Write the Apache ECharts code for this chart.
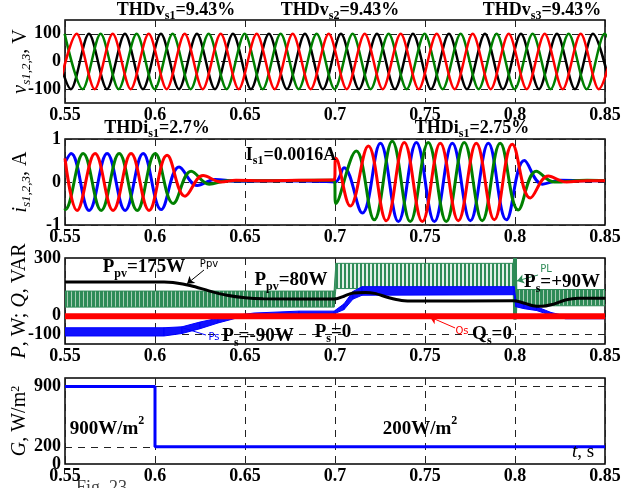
<!DOCTYPE html>
<html lang="en">
<head>
<meta charset="UTF-8">
<title>PV power flow waveforms</title>
<style>
  html, body { margin: 0; padding: 0; background: #fff; }
  #main { width: 628px; height: 488px; }
</style>
</head>
<body>
<div id="main"></div>
<script src="https://cdn.jsdelivr.net/npm/echarts@6/dist/echarts.min.js"></script>
<script>
// time axis, s
var xTicks = [0.55, 0.6, 0.65, 0.7, 0.75, 0.8, 0.85];

// tick labels shown on each y axis
var vTicks = [-100, 0, 100];
var iTicks = [-1, 0, 1];
var pTicks = [-100, 0, 300];
var gTicks = [0, 200, 900];

// panel 1: source voltages, peaks / troughs
var vRedT = [0.5465,0.5565,0.5665,0.5765,0.5865,0.5965,0.6065,0.6165,0.6265,0.6365,0.6465,0.6565,0.6665,0.6765,0.6865,0.6965,
             0.7065,0.7165,0.7265,0.7365,0.7465,0.7565,0.7665,0.7765,0.7865,0.7965,0.8065,0.8165,0.8265,0.8365,0.8465,0.8565];
var vRedV = [-100,100,-100,100,-100,100,-100,100,-100,100,-100,100,-100,100,-100,100,
             -100,100,-100,100,-100,100,-100,100,-100,100,-100,100,-100,100,-100,100];
var vBlkT = [0.5433,0.5533,0.5633,0.5733,0.5833,0.5933,0.6033,0.6133,0.6233,0.6333,0.6433,0.6533,0.6633,0.6733,0.6833,0.6933,
             0.7033,0.7133,0.7233,0.7333,0.7433,0.7533,0.7633,0.7733,0.7833,0.7933,0.8033,0.8133,0.8233,0.8333,0.8433,0.8533];
var vBlkV = [100,-100,100,-100,100,-100,100,-100,100,-100,100,-100,100,-100,100,-100,
             100,-100,100,-100,100,-100,100,-100,100,-100,100,-100,100,-100,100,-100];
var vGrnT = [0.5498,0.5598,0.5698,0.5798,0.5898,0.5998,0.6098,0.6198,0.6298,0.6398,0.6498,0.6598,0.6698,0.6798,0.6898,0.6998,
             0.7098,0.7198,0.7298,0.7398,0.7498,0.7598,0.7698,0.7798,0.7898,0.7998,0.8098,0.8198,0.8298,0.8398,0.8498,0.8598];
var vGrnV = [100,-100,100,-100,100,-100,100,-100,100,-100,100,-100,100,-100,100,-100,
             100,-100,100,-100,100,-100,100,-100,100,-100,100,-100,100,-100,100,-100];

// panel 2: source currents
var iRedT = [0.55,0.5567,0.5667,0.5767,0.5867,0.5967,0.6067,0.6167,0.6267,0.6367,0.645,0.66,0.68,0.6995,
             0.7005,0.7085,0.7185,0.7285,0.7385,0.7485,0.7585,0.7685,0.7785,0.7885,0.7985,0.8085,0.8185,0.8285,0.84,0.85];
var iRedV = [0.55,-0.66,0.66,-0.66,0.66,-0.66,0.62,-0.33,0.15,0.0,0.04,0.03,0.04,0.05,
             0.55,-0.56,0.84,-0.9,0.92,-0.92,0.9,-0.9,0.9,-0.88,0.88,-0.37,0.14,0.0,0.03,0.03];
var iBluT = [0.55,0.5534,0.5634,0.5734,0.5834,0.5934,0.6034,0.6134,0.6234,0.6334,0.645,0.67,0.69,0.7,
             0.705,0.7152,0.7252,0.7352,0.7452,0.7552,0.7652,0.7752,0.7852,0.7952,0.8052,0.8152,0.8252,0.84,0.85];
var iBluV = [0.45,0.66,-0.66,0.66,-0.66,0.66,-0.64,0.35,-0.08,0.06,0.02,0.03,0.02,0.0,
             0.33,-0.72,0.9,-0.92,0.92,-0.92,0.9,-0.9,0.9,-0.88,0.5,-0.05,0.04,0.03,0.03];
var iGrnT = [0.55,0.5501,0.5601,0.5701,0.5801,0.5901,0.6001,0.6101,0.6201,0.6301,0.64,0.66,0.69,0.6995,
             0.7005,0.7118,0.7218,0.7318,0.7418,0.7518,0.7618,0.7718,0.7818,0.7918,0.8018,0.8118,0.8218,0.84,0.85];
var iGrnV = [-0.62,-0.64,0.66,-0.66,0.66,-0.66,0.66,-0.5,0.25,-0.05,0.03,0.03,0.04,0.04,
             -0.5,0.72,-0.88,0.95,-0.92,0.92,-0.92,0.92,-0.9,0.9,-0.65,0.25,0.0,0.04,0.03];

// panel 3: powers
var ppvT = [0.55,0.605,0.61,0.62,0.63,0.64,0.65,0.66,0.7,0.705,0.71,0.717,0.722,0.73,0.737,0.745,0.799,0.803,0.81,0.815,0.82,0.828,0.835,0.85];
var ppvV = [175,175,172,155,128,105,92,87,85,100,117,120,115,92,78,75,76,70,50,47,55,80,90,90];
// load power ripple band (low / high edges), steady parts and the 0.7-0.8 s step
var plT  = [0.55,0.6995,0.7005,0.799,0.7993,0.8007,0.801,0.85];
var plLo = [43,43,140,140,-20,-20,50,50];
var plHi = [127,127,272,272,300,300,135,135];
// grid active power band
var psT  = [0.55,0.605,0.615,0.625,0.635,0.645,0.655,0.68,0.6995,0.705,0.71,0.715,0.7995,0.8005,0.805,0.812,0.82,0.828,0.85];
var psLo = [-108,-108,-95,-70,-40,-15,0,8,8,30,85,105,108,45,35,25,0,-18,-18];
var psHi = [-65,-65,-60,-35,-15,0,12,22,22,60,125,150,150,80,60,45,15,-3,-3];
var qsT  = [0.55,0.85];
var qsV  = [-5,-5];

// panel 4: irradiance
var gT = [0.55,0.6,0.6,0.85];
var gV = [900,900,200,200];

var SERIF = 'Liberation Serif';
var grids = [
  {left: 65, right: 23, top: 20, height: 83},
  {left: 65, right: 23, top: 139, height: 86},
  {left: 65, right: 23, top: 258, height: 86},
  {left: 65, right: 23, top: 378, height: 86}
];
grids.forEach(function (g) {
  g.show = true; g.borderColor = '#000'; g.borderWidth = 1.5; g.backgroundColor = 'transparent';
  g.containLabel = false; g.outerBoundsMode = 'none';
});

function pairs(t, v) { return t.map(function (x, i) { return [x, v[i]]; }); }

function xAxisFor(i) {
  return {
    type: 'value', gridIndex: i, min: xTicks[0], max: xTicks[xTicks.length - 1], interval: 0.05,
    axisLine: {show: false}, axisTick: {show: false},
    axisLabel: {fontFamily: SERIF, fontWeight: 'bold', fontSize: 18, color: '#000', margin: 3, showMinLabel: true, showMaxLabel: true},
    splitLine: {show: true, lineStyle: {color: '#222', width: 1, type: [7, 6]}}
  };
}

var nameRich = {
  it: {fontFamily: SERIF, fontStyle: 'italic', fontSize: 20, lineHeight: 22, verticalAlign: 'top', color: '#000'},
  n: {fontFamily: SERIF, fontSize: 20, lineHeight: 22, verticalAlign: 'top', color: '#000'},
  sb: {fontFamily: SERIF, fontStyle: 'italic', fontSize: 13, lineHeight: 15, padding: [9, 0, 0, 0], verticalAlign: 'top', color: '#000'},
  sp: {fontFamily: SERIF, fontSize: 12, lineHeight: 13, verticalAlign: 'top', color: '#000'}
};

function yAxisFor(i, min, max, interval, ticks, name, gap, split) {
  return {
    type: 'value', gridIndex: i, min: min, max: max, interval: interval,
    axisLine: {show: false}, axisTick: {show: false},
    axisLabel: {
      fontFamily: SERIF, fontWeight: 'bold', fontSize: 18, color: '#000', margin: 4, showMinLabel: true, showMaxLabel: true,
      formatter: function (v) { return ticks.indexOf(Math.round(v * 1000) / 1000) >= 0 ? String(v) : ''; }
    },
    splitLine: {show: !!split, lineStyle: {color: '#222', width: 1, type: [7, 6]}},
    name: name, nameLocation: 'middle', nameRotate: 90, nameGap: gap, nameMoveOverlap: false,
    nameTextStyle: {rich: nameRich}
  };
}

function line(i, t, v, color, width, smooth, extra) {
  var s = {
    type: 'line', xAxisIndex: i, yAxisIndex: i, data: pairs(t, v),
    symbol: 'none', smooth: smooth, silent: true, animation: false,
    lineStyle: {color: color, width: width}, itemStyle: {color: color}
  };
  for (var k in (extra || {})) s[k] = extra[k];
  return s;
}

// ripple band between a low and a high edge, one quad per segment;
// fills[j] picks the fill of segment j
function band(i, t, lo, hi, color, fills) {
  var segs = [];
  for (var j = 0; j < t.length - 1; j++) segs.push([t[j], lo[j], hi[j], t[j + 1], lo[j + 1], hi[j + 1], j]);
  return {
    type: 'custom', xAxisIndex: i, yAxisIndex: i, data: segs, clip: true, silent: true, animation: false,
    encode: {x: [0, 3], y: [1, 2, 4, 5]},
    renderItem: function (params, api) {
      var p = [
        api.coord([api.value(0), api.value(1)]),
        api.coord([api.value(3), api.value(4)]),
        api.coord([api.value(3), api.value(5)]),
        api.coord([api.value(0), api.value(2)])
      ];
      var f = fills[Math.min(api.value(6), fills.length - 1)];
      return {type: 'polygon', shape: {points: p}, style: {fill: f, stroke: color, lineWidth: 1}};
    }
  };
}

// striped fills standing in for the dense ripple of the load power
function stripe(on, off, light) {
  var c = document.createElement('canvas');
  c.width = on + off; c.height = 4;
  var g = c.getContext('2d');
  g.fillStyle = light; g.fillRect(0, 0, on + off, 4);
  g.fillStyle = '#2e8b57'; g.fillRect(0, 0, on, 4);
  return {image: c, repeat: 'repeat'};
}
var dense = stripe(3, 1, '#a9cdb6');
var sparse = stripe(2, 2, '#e2efe7');

function hLines(values) {
  return {
    silent: true, symbol: 'none', z: 1, animation: false, label: {show: false},
    lineStyle: {color: '#222', width: 1, type: [7, 6]},
    data: values.map(function (v) { return {yAxis: v}; })
  };
}

function arrow(color, from, to, head) {
  return [
    {coord: from, symbol: 'none', lineStyle: {color: color, width: 1, type: 'solid'}},
    {coord: to, symbol: head ? 'arrow' : 'none'}
  ];
}

var series = [];
// panel 1
series.push(line(0, vBlkT, vBlkV, '#000000', 2.5, 0.3, {markLine: hLines([100, 0, -100])}));
series.push(line(0, vGrnT, vGrnV, '#008000', 2.5, 0.3));
series.push(line(0, vRedT, vRedV, '#ff0000', 2.5, 0.3));
// panel 2
series.push(line(1, iBluT, iBluV, '#0000ff', 3, 0.4));
series.push(line(1, iGrnT, iGrnV, '#008000', 3, 0.4));
series.push(line(1, iRedT, iRedV, '#ff0000', 3, 0.4));
// panel 3
series.push(band(2, plT, plLo, plHi, '#2e8b57', [dense, dense, sparse, '#2e8b57', '#2e8b57', '#2e8b57', dense]));
series.push(band(2, psT, psLo, psHi, '#0000ff', ['#1010ff']));
series.push(line(2, qsT, qsV, '#ff0000', 6, false, {
  markLine: {
    silent: true, animation: false, symbolSize: 7, label: {show: false},
    data: [
      arrow('#2e8b57', [0.8128, 211], [0.8011, 180], true),
      arrow('#0000ff', [0.6283, -103], [0.6156, -66], false),
      arrow('#ff0000', [0.7667, -66], [0.7528, -9], true),
      arrow('#000000', [0.6272, 237], [0.6178, 165], true)
    ]
  }
}));
series.push(line(2, ppvT, ppvV, '#000000', 3, 0.3, {markLine: hLines([-100, 0])}));
// panel 4
series.push(line(3, gT, gV, '#0000ff', 3, false, {markLine: hLines([900, 200])}));

var bRich = {
  b: {fontFamily: SERIF, fontWeight: 'bold', fontSize: 18, lineHeight: 20, verticalAlign: 'top', color: '#0000ff'},
  s: {fontFamily: SERIF, fontWeight: 'bold', fontSize: 12, lineHeight: 13, padding: [9, 0, 0, 0], verticalAlign: 'top', color: '#0000ff'},
  B: {fontFamily: SERIF, fontWeight: 'bold', fontSize: 19, lineHeight: 21, verticalAlign: 'top', color: '#0000ff'},
  S: {fontFamily: SERIF, fontWeight: 'bold', fontSize: 12, lineHeight: 13, padding: [10, 0, 0, 0], verticalAlign: 'top', color: '#0000ff'},
  bb: {fontFamily: SERIF, fontWeight: 'bold', fontSize: 19, lineHeight: 21, padding: [5, 0, 0, 0], verticalAlign: 'top', color: '#0000ff'},
  p: {fontFamily: SERIF, fontWeight: 'bold', fontSize: 12, lineHeight: 13, verticalAlign: 'top', color: '#0000ff'},
  it: {fontFamily: SERIF, fontStyle: 'italic', fontSize: 19, lineHeight: 21, verticalAlign: 'top', color: '#000'},
  n: {fontFamily: SERIF, fontSize: 19, lineHeight: 21, verticalAlign: 'top', color: '#000'}
};

function label(x, y, text) {
  return {type: 'text', x: x, y: y, silent: true, z: 100,
    style: {text: text, rich: bRich, align: 'center', verticalAlign: 'middle'}};
}
function small(x, y, text, color) {
  return {type: 'text', x: x, y: y, silent: true, z: 100,
    style: {text: text, fill: color, font: '10px "DejaVu Sans"', align: 'center', verticalAlign: 'middle'}};
}

var graphics = [
  label(176, 11, '{b|THDv}{s|s1}{b|=9.43%}'),
  label(340, 11, '{b|THDv}{s|s2}{b|=9.43%}'),
  label(542, 11, '{b|THDv}{s|s3}{b|=9.43%}'),
  label(157, 129, '{b|THDi}{s|s1}{b|=2.7%}'),
  label(472, 129, '{b|THDi}{s|s1}{b|=2.75%}'),
  label(291, 156, '{b|I}{s|s1}{b|=0.0016A}'),
  label(144, 268, '{B|P}{S|pv}{B|=175W}'),
  label(291, 281, '{B|P}{S|pv}{B|=80W}'),
  label(258, 337, '{B|P}{S|s}{B|=-90W}'),
  label(333, 333, '{B|P}{S|s}{B|=0}'),
  label(492, 335, '{B|Q}{S|s}{B|=0}'),
  label(562, 283, '{B|P}{S|s}{B|=+90W}'),
  label(107, 425, '{bb|900W/m}{p|2}'),
  label(420, 425, '{bb|200W/m}{p|2}'),
  label(583, 453, '{it|t}{n|, s}'),
  small(209, 264, 'Ppv', '#000'),
  small(214, 337, 'Ps', '#0000ff'),
  small(546, 269, 'PL', '#2e8b57'),
  small(462, 331, 'Qs', '#ff0000'),
  {type: 'text', x: 76, y: 479, silent: true,
    style: {text: 'Fig. 23.', fill: '#444', font: '18px "Liberation Serif"'}}
];

var chart = echarts.init(document.getElementById('main'), null, {renderer: 'canvas'});
chart.setOption({
  animation: false,
  backgroundColor: '#fff',
  textStyle: {fontFamily: SERIF},
  grid: grids,
  xAxis: [xAxisFor(0), xAxisFor(1), xAxisFor(2), xAxisFor(3)],
  yAxis: [
    yAxisFor(0, -150, 150, 50, vTicks, '{it|v}{sb|s1,2,3}{n|, V}', 32, false),
    yAxisFor(1, -1, 1, 1, iTicks, '{it|i}{sb|s1,2,3}{n|, A}', 32, true),
    yAxisFor(2, -150, 300, 50, pTicks, '{it|P}{n|, W; }{it|Q}{n|, VAR}', 33, false),
    yAxisFor(3, 0, 1000, 100, gTicks, '{it|G}{n|, W/m}{sp|2}', 33, false)
  ],
  series: series,
  graphic: graphics
});
</script>
</body>
</html>
